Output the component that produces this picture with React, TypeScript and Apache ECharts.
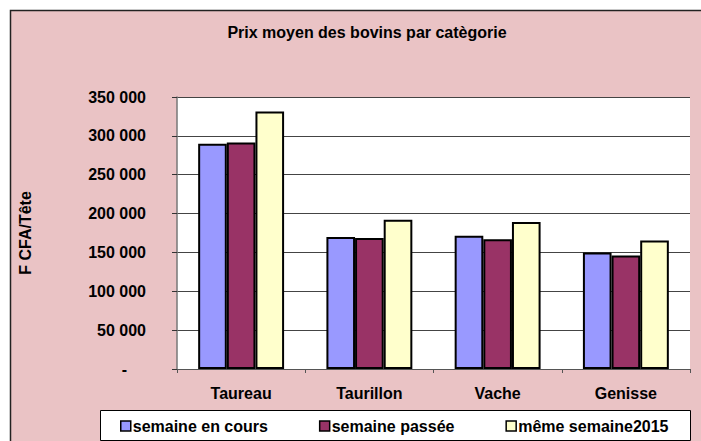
import React, { useEffect, useRef } from "react";
import * as echarts from "echarts";

const categories = ["Taureau", "Taurillon", "Vache", "Genisse"];
const seriesNames = ["semaine en cours", "semaine passée", "même semaine2015"];
const semaineEnCours = [290000, 170000, 171500, 150000];
const semainePassee = [291500, 168500, 167000, 146000];
const memeSemaine2015 = [331500, 192000, 189000, 165500];
const seriesColors = ["#9999ff", "#993366", "#ffffcc"];
const yTicks = { min: 0, max: 350000, interval: 50000 };
const titleText = "Prix moyen des bovins par catègorie";
const yAxisName = "F CFA/Tête";

const FONT = "Arial, 'Liberation Sans', sans-serif";

function fmt(v: number): string {
  if (v === 0) return "{z|-}";
  const s = Math.round(v).toString();
  return s.replace(/\B(?=(\d{3})+(?!\d))/g, " ");
}

export default function App() {
  const ref = useRef<HTMLDivElement>(null);
  useEffect(() => {
    if (!ref.current) return;
    const chart = echarts.init(ref.current, null, { renderer: "svg" });
    const values = [semaineEnCours, semainePassee, memeSemaine2015];
    chart.setOption({
      animation: false,
      backgroundColor: "#ffffff",
      textStyle: { fontFamily: FONT },
      graphic: [
        {
          type: "rect",
          z: -10,
          silent: true,
          shape: { x: 10.5, y: 10.5, width: 720, height: 460 },
          style: { fill: "#eac3c5", stroke: "#222", lineWidth: 1.5 },
        },
        {
          type: "rect",
          z: 1,
          silent: true,
          shape: { x: 100.5, y: 410.5, width: 590, height: 30 },
          style: { fill: "#ffffff", stroke: "#000", lineWidth: 1 },
        },
        {
          type: "text",
          z: 5,
          x: 367,
          y: 32,
          style: {
            text: titleText,
            font: `bold 16px ${FONT}`,
            fill: "#000",
            textAlign: "center",
            textVerticalAlign: "middle",
          },
        },
      ],
      legend: {
        left: 120,
        top: 418,
        itemWidth: 10,
        itemHeight: 10,
        itemGap: 51,
        padding: 0,
        icon: "rect",
        z: 10,
        textStyle: { fontFamily: FONT, fontWeight: "bold", fontSize: 16, color: "#000", padding: [0, 0, 0, -3] },
        itemStyle: { borderColor: "#000", borderWidth: 1.5 },
        data: seriesNames,
      },
      grid: { left: 177, right: 11, top: 97, bottom: 72, backgroundColor: "#ffffff", show: true, borderWidth: 0 },
      xAxis: {
        type: "category",
        data: categories,
        axisLine: { lineStyle: { color: "#555", width: 1 } },
        axisTick: { show: true, length: 4, lineStyle: { color: "#555" } },
        axisLabel: { fontFamily: FONT, fontWeight: "bold", fontSize: 16, color: "#000", margin: 16 },
      },
      yAxis: {
        type: "value",
        min: yTicks.min,
        max: yTicks.max,
        interval: yTicks.interval,
        name: yAxisName,
        nameLocation: "middle",
        nameRotate: 90,
        nameGap: 144,
        nameTextStyle: { fontFamily: FONT, fontWeight: "bold", fontSize: 16, color: "#000" },
        axisLine: { show: true, lineStyle: { color: "#777", width: 1.5 } },
        axisTick: { show: true, length: 5, lineStyle: { color: "#333" } },
        splitLine: { lineStyle: { color: "#444", width: 1.2 } },
        axisLabel: {
          fontFamily: FONT,
          fontWeight: "bold",
          fontSize: 16,
          color: "#000",
          margin: 31,
          formatter: fmt,
          rich: { z: { fontFamily: FONT, fontWeight: "bold", fontSize: 16, color: "#000", padding: [0, 19, 0, 0] } },
        },
      },
      series: seriesNames.map((name, i) => ({
        name,
        type: "bar",
        data: values[i],
        barGap: "0%",
        barCategoryGap: "33%",
        itemStyle: { color: seriesColors[i], borderColor: "#000", borderWidth: 2 },
      })),
    });
    return () => chart.dispose();
  }, []);
  return (
    <div
      ref={ref}
      style={{ position: "fixed", left: 0, top: 0, width: 701, height: 441 }}
    />
  );
}
